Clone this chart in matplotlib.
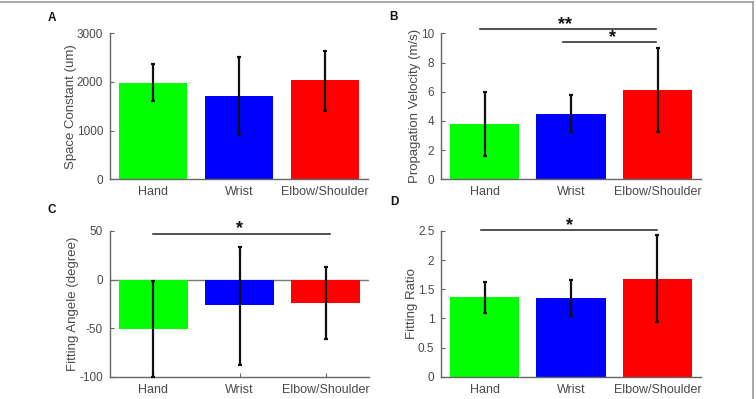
import matplotlib
matplotlib.use('Agg')
import matplotlib.pyplot as plt
from matplotlib.lines import Line2D

plt.rcParams['font.family'] = ['Liberation Sans', 'DejaVu Sans']

CATEGORIES = ['Hand', 'Wrist', 'Elbow/Shoulder']
BAR_COLORS = ['#00ff00', '#0000ff', '#ff0000']
TEXT_COLOR = '#4a4a4a'

# panel A: space constant
SPACE_MEAN = [1985, 1705, 2034]
SPACE_LOW = [1603, 904, 1410]
SPACE_HIGH = [2369, 2519, 2642]

# panel B: propagation velocity
VEL_MEAN = [3.79, 4.49, 6.14]
VEL_LOW = [1.62, 3.26, 3.26]
VEL_HIGH = [5.96, 5.75, 8.97]

# panel C: fitting angle
ANGLE_MEAN = [-50.5, -26.5, -23.7]
ANGLE_LOW = [-100, -87.5, -60.8]
ANGLE_HIGH = [-1.4, 33.6, 13.0]

# panel D: fitting ratio
RATIO_MEAN = [1.372, 1.355, 1.676]
RATIO_LOW = [1.10, 1.046, 0.933]
RATIO_HIGH = [1.63, 1.66, 2.425]

PANELS = [
    dict(letter='A', rect=[0.1455, 0.5506, 0.3413, 0.3659], mean=SPACE_MEAN, low=SPACE_LOW,
         high=SPACE_HIGH, ylim=(0, 3000), yticks=[0, 1000, 2000, 3000],
         ylabel='Space Constant (um)', letter_pos=(52, 17.7),
         sig=[]),
    dict(letter='B', rect=[0.5837, 0.5506, 0.3435, 0.3659], mean=VEL_MEAN, low=VEL_LOW,
         high=VEL_HIGH, ylim=(0, 10), yticks=[0, 2, 4, 6, 8, 10],
         ylabel='Propagation Velocity (m/s)', letter_pos=(393.7, 17),
         sig=[(0.945, 2.98, 10.32, '**', 1.93), (1.91, 2.98, 9.38, '*', 2.48)]),
    dict(letter='C', rect=[0.1455, 0.0559, 0.3426, 0.3652], mean=ANGLE_MEAN, low=ANGLE_LOW,
         high=ANGLE_HIGH, ylim=(-100, 50), yticks=[-100, -50, 0, 50],
         ylabel='Fitting Angele (degree)', letter_pos=(51.7, 210),
         sig=[(1.0, 3.05, 47.4, '*', 2.0)]),
    dict(letter='D', rect=[0.5837, 0.0559, 0.3431, 0.3652], mean=RATIO_MEAN, low=RATIO_LOW,
         high=RATIO_HIGH, ylim=(0, 2.5), yticks=[0, 0.5, 1, 1.5, 2, 2.5],
         ylabel='Fitting Ratio', letter_pos=(394.7, 202.3),
         sig=[(0.96, 3.0, 2.52, '*', 1.98)]),
]


def draw_panel(fig, p):
    ax = fig.add_axes(p['rect'])
    xs = [1, 2, 3]
    ax.bar(xs, p['mean'], width=0.8, color=BAR_COLORS, zorder=2)
    lower = [m - lo for m, lo in zip(p['mean'], p['low'])]
    upper = [hi - m for m, hi in zip(p['mean'], p['high'])]
    ax.errorbar(xs, p['mean'], yerr=[lower, upper], fmt='none', ecolor='#111111',
                elinewidth=1.6, capsize=1.5, capthick=1.6, zorder=3, clip_on=False)
    if p['ylim'][0] < 0:
        ax.axhline(0, color='#777777', lw=1.0, zorder=1)

    ax.set_xlim(0.5, 3.5)
    ax.set_ylim(*p['ylim'])
    ax.set_yticks(p['yticks'])
    ax.set_yticklabels(['%g' % t for t in p['yticks']])
    ax.set_xticks(xs)
    ax.set_xticklabels(CATEGORIES)
    ax.tick_params(direction='in', length=3, width=0.8, colors='#666666',
                   labelcolor=TEXT_COLOR, pad=5)
    ax.tick_params(axis='x', labelsize=9)
    ax.tick_params(axis='y', labelsize=8.5)
    ax.set_ylabel(p['ylabel'], fontsize=9.5, color=TEXT_COLOR, labelpad=0)
    for side in ('top', 'right'):
        ax.spines[side].set_visible(False)
    for side in ('left', 'bottom'):
        ax.spines[side].set_color('#666666')
        ax.spines[side].set_linewidth(1.0)

    for x0, x1, y, label, xt in p['sig']:
        ax.plot([x0, x1], [y, y], color='#222222', lw=1.1, clip_on=False)
        ax.annotate(label, xy=(xt, y), xytext=(0, 0), textcoords='offset points',
                    ha='center', va='baseline', fontsize=13, fontweight='bold',
                    color='#111111', annotation_clip=False)

    fig.text(p['letter_pos'][0] / 756, 1 - p['letter_pos'][1] / 399, p['letter'],
             ha='center', va='center', fontsize=8.5, fontweight='bold', color='#111111')


def main():
    fig = plt.figure(figsize=(7.56, 3.99), dpi=100)
    for p in PANELS:
        draw_panel(fig, p)
    # thin frame at the top and right edges
    fig.add_artist(Line2D([0, 753 / 756], [1 - 2 / 399, 1 - 2 / 399],
                          transform=fig.transFigure, color='#9a9a9a', lw=1.2))
    fig.add_artist(Line2D([753 / 756, 753 / 756], [0, 1 - 2 / 399],
                          transform=fig.transFigure, color='#9a9a9a', lw=1.2))
    fig.savefig('out.png', dpi=100)
    plt.close(fig)


if __name__ == '__main__':
    main()
